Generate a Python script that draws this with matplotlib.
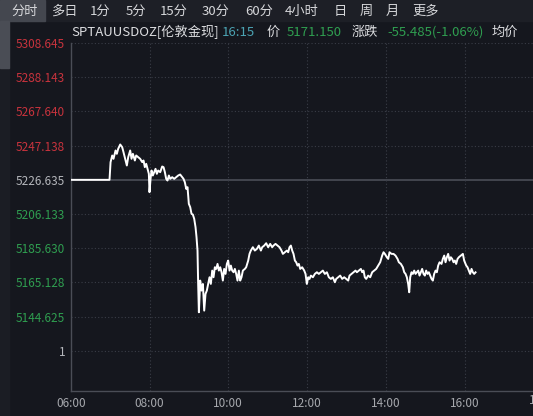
import matplotlib
matplotlib.use("Agg")
import matplotlib.pyplot as plt
from matplotlib.patches import Rectangle

plt.rcParams['font.family'] = ['Noto Sans CJK SC', 'DejaVu Sans']

# minutes after 06:00 and price (SPTAUUSDOZ intraday)
minutes = [0, 59.1, 60.7, 63.2, 65.2, 68.3, 70.3, 72.3, 75.4, 78.4, 80.4, 83.5, 85.5, 87.6,
           90.6, 92.6, 94.7, 97.7, 99.7, 102.8, 105.8, 108.9, 110.9, 112.9, 115.0, 117.0,
           119.0, 120.0, 121.6, 123.1, 125.1, 127.1, 129.2, 131.2, 133.2, 136.3, 139.3,
           141.4, 143.4, 145.4, 147.4, 149.5, 151.5, 154.6, 157.6, 160.6, 163.7, 166.7,
           169.8, 171.8, 173.8, 175.9, 177.9, 179.9, 182.0, 184.0, 186.0, 188.1, 190.1,
           191.6, 193.1, 194.1, 195.2, 197.2, 199.2, 201.3, 203.3, 205.3, 207.3, 209.4,
           211.4, 213.4, 215.5, 217.5, 219.5, 221.6, 223.6, 225.6, 227.7, 229.7, 231.7,
           233.7, 235.8, 237.8, 239.8, 241.9, 243.9, 245.9, 248.0, 250.0, 252.0, 254.0,
           256.1, 258.1, 260.1, 262.2, 265.2, 267.2, 270.3, 272.3, 274.3, 277.4, 280.4,
           283.5, 286.5, 289.6, 291.6, 294.7, 297.7, 300.7, 303.8, 306.8, 308.9, 311.9,
           315.0, 318.0, 321.0, 323.1, 326.1, 329.2, 331.2, 333.2, 335.3, 337.3, 339.3,
           341.4, 343.4, 345.4, 347.4, 349.5, 352.5, 355.6, 357.6, 359.6, 361.7, 363.7,
           365.7, 368.8, 371.8, 374.9, 377.9, 380.9, 384.0, 387.0, 390.1, 393.1, 396.2,
           399.2, 402.3, 404.3, 407.3, 410.4, 413.4, 416.5, 419.5, 422.6, 424.6, 427.6,
           430.7, 433.7, 435.8, 438.8, 441.9, 443.9, 445.9, 447.9, 450.0, 453.0, 456.1,
           459.1, 462.1, 465.2, 468.2, 471.3, 474.3, 476.4, 478.4, 481.4, 483.5, 485.5,
           488.6, 491.6, 494.6, 497.7, 499.7, 502.8, 505.8, 507.9, 509.9, 511.9, 513.9,
           515.5, 517.0, 519.0, 521.0, 523.1, 525.1, 527.1, 529.2, 531.2, 533.2, 535.2,
           537.3, 539.3, 541.3, 543.4, 545.4, 547.4, 549.5, 551.5, 553.5, 555.6, 557.6,
           559.6, 561.7, 564.7, 566.7, 568.8, 570.8, 572.8, 574.8, 576.9, 578.9, 580.9,
           583.0, 585.0, 587.0, 589.1, 591.1, 594.1, 597.2, 599.2, 602.3, 604.3, 606.3,
           608.3, 610.4, 612.4, 614.4, 616.5]
prices = [5226.6, 5226.6, 5237.2, 5241.2, 5239.2, 5244.2, 5242.2, 5245.2, 5247.8, 5246.2,
          5243.2, 5238.2, 5235.2, 5240.2, 5244.2, 5239.2, 5242.2, 5238.2, 5241.2, 5240.2,
          5239.2, 5237.2, 5238.2, 5234.2, 5236.2, 5233.2, 5230.2, 5219.2, 5227.2, 5232.2,
          5229.2, 5231.2, 5233.2, 5230.2, 5232.2, 5231.2, 5234.6, 5234.2, 5231.2, 5227.2,
          5226.2, 5229.2, 5227.2, 5228.2, 5227.2, 5228.2, 5229.2, 5229.8, 5228.2, 5227.2,
          5225.2, 5221.2, 5222.2, 5212.2, 5210.2, 5206.2, 5205.8, 5203.2, 5198.2, 5192.2,
          5184.2, 5164.2, 5147.2, 5166.2, 5160.2, 5164.2, 5148.2, 5158.2, 5160.2, 5164.2,
          5168.2, 5164.2, 5172.2, 5168.2, 5174.2, 5173.2, 5176.2, 5172.2, 5174.2, 5171.2,
          5166.2, 5173.2, 5170.2, 5176.2, 5178.2, 5172.2, 5175.2, 5172.2, 5171.2, 5173.2,
          5170.2, 5166.2, 5172.2, 5166.2, 5168.2, 5172.2, 5173.2, 5174.2, 5178.2, 5182.2,
          5184.2, 5186.2, 5184.2, 5185.2, 5187.2, 5184.2, 5186.2, 5187.2, 5188.6, 5186.2,
          5188.2, 5186.2, 5187.2, 5188.2, 5187.2, 5186.2, 5184.2, 5182.2, 5183.2, 5184.2,
          5183.2, 5186.2, 5187.2, 5184.2, 5182.2, 5178.2, 5177.2, 5175.2, 5176.2, 5173.2,
          5174.2, 5172.2, 5170.2, 5164.2, 5168.2, 5167.2, 5169.2, 5168.2, 5170.2, 5171.2,
          5170.2, 5171.2, 5172.2, 5170.2, 5171.2, 5168.2, 5167.2, 5168.2, 5165.2, 5167.2,
          5168.2, 5169.2, 5167.2, 5168.2, 5167.2, 5166.2, 5169.2, 5170.2, 5171.2, 5172.2,
          5171.2, 5172.2, 5173.2, 5171.2, 5172.2, 5168.2, 5167.2, 5169.2, 5168.2, 5171.2,
          5172.2, 5173.2, 5175.2, 5177.2, 5181.2, 5183.2, 5182.2, 5180.2, 5179.2, 5183.2,
          5182.2, 5182.2, 5181.2, 5179.2, 5177.2, 5176.2, 5174.2, 5171.2, 5170.2, 5168.2,
          5164.2, 5159.2, 5168.2, 5171.2, 5170.2, 5172.2, 5170.2, 5171.2, 5172.2, 5169.2,
          5171.2, 5173.2, 5170.2, 5169.2, 5172.2, 5170.2, 5171.2, 5169.2, 5167.2, 5166.2,
          5170.2, 5172.2, 5171.2, 5175.2, 5177.2, 5176.2, 5179.2, 5181.2, 5177.2, 5180.2,
          5182.2, 5178.2, 5180.2, 5179.2, 5177.2, 5178.2, 5176.2, 5179.2, 5180.2, 5181.2,
          5182.2, 5178.2, 5175.2, 5174.2, 5172.2, 5170.2, 5173.2, 5171.2, 5170.2, 5171.15]

prev_close = 5226.635
y_ticks = [5308.645, 5288.143, 5267.640, 5247.138, 5226.635, 5206.133, 5185.630,
           5165.128, 5144.625, 5124.123]
y_labels = ["5308.645", "5288.143", "5267.640", "5247.138", "5226.635", "5206.133",
            "5185.630", "5165.128", "5144.625", "1"]
x_ticks = [0, 120, 240, 360, 480, 600]
x_labels = ["06:00", "08:00", "10:00", "12:00", "14:00", "16:00"]
tabs = ["分时", "多日", "1分", "5分", "15分", "30分", "60分", "4小时", "日", "周", "月", "更多"]
tab_x = [25, 64, 100, 136, 174, 216, 259, 302, 340, 366, 392, 426]

BG = "#15171e"
GRID = "#3a3d47"
RED = "#c8333d"
GREEN = "#2f9e50"
GREY = "#b4b6bb"

W, H = 533, 416
fig = plt.figure(figsize=(W / 100, H / 100), dpi=100, facecolor=BG)


def fx(px):
    return px / W


def fy(py):
    return 1 - py / H


# tab bar
fig.patches.append(Rectangle((0, fy(21)), 1, 21 / H, transform=fig.transFigure,
                             color="#1d1f26", zorder=0))
fig.patches.append(Rectangle((0, fy(21)), fx(45), 21 / H, transform=fig.transFigure,
                             color="#44474f", zorder=1))
for t, x in zip(tabs, tab_x):
    fig.text(fx(x), fy(11), t, color="#d6d7da", fontsize=9.5, ha="center", va="center")

# left side strip
fig.patches.append(Rectangle((0, 0), fx(9), fy(21), transform=fig.transFigure,
                             color="#1b1d24", zorder=0))
fig.patches.append(Rectangle((0, fy(68)), fx(9), 47 / H, transform=fig.transFigure,
                             color="#4a4d55", zorder=1))

# header line
hy = fy(32)
fig.text(fx(71), hy, "SPTAUUSDOZ[伦敦金现]", color="#dcdde0", fontsize=9.5, va="center")
fig.text(fx(222), hy, "16:15", color="#4ba3b3", fontsize=9.5, va="center")
fig.text(fx(267), hy, "价", color="#dcdde0", fontsize=9.5, va="center")
fig.text(fx(287), hy, "5171.150", color=GREEN, fontsize=9.5, va="center")
fig.text(fx(352), hy, "涨跌", color="#dcdde0", fontsize=9.5, va="center")
fig.text(fx(387), hy, "-55.485(-1.06%)", color=GREEN, fontsize=9.5, va="center")
fig.text(fx(492), hy, "均价", color="#dcdde0", fontsize=9.5, va="center")

ax = fig.add_axes([fx(70.7), fy(391), 1 - fx(70.7), fy(43) - fy(391)])
ax.set_facecolor(BG)
ax.set_xlim(0, 704)
ax.set_ylim(5100.0, 5308.645)

for v in y_ticks:
    if v == prev_close:
        ax.axhline(v, color="#4b4e57", lw=1.2, zorder=1)
    else:
        ax.axhline(v, color=GRID, lw=0.8, ls=(0, (1, 2)), zorder=1)
for m in x_ticks[1:]:
    ax.axvline(m, color=GRID, lw=0.8, ls=(0, (1, 2)), zorder=1)

ax.plot(minutes, prices, color="white", lw=1.4, zorder=3)

ax.set_yticks(y_ticks)
ax.set_yticklabels(y_labels, fontsize=8.5)
for lab, v in zip(ax.get_yticklabels(), y_ticks):
    if lab.get_text() == "1" or v == prev_close:
        lab.set_color(GREY)
    elif v > prev_close:
        lab.set_color(RED)
    else:
        lab.set_color(GREEN)
ax.set_xticks(x_ticks)
ax.set_xticklabels(x_labels, fontsize=8.5, color="#a6a8ad")
ax.tick_params(length=0, pad=4)
fig.text(fx(543.5), fy(401), "18:00", color="#a6a8ad", fontsize=8.5, ha="center", va="center")

for side in ["top", "right"]:
    ax.spines[side].set_visible(False)
for side in ["left", "bottom"]:
    ax.spines[side].set_color("#4a4d56")
    ax.spines[side].set_linewidth(1.0)

fig.savefig("out.png", dpi=100, facecolor=BG)
